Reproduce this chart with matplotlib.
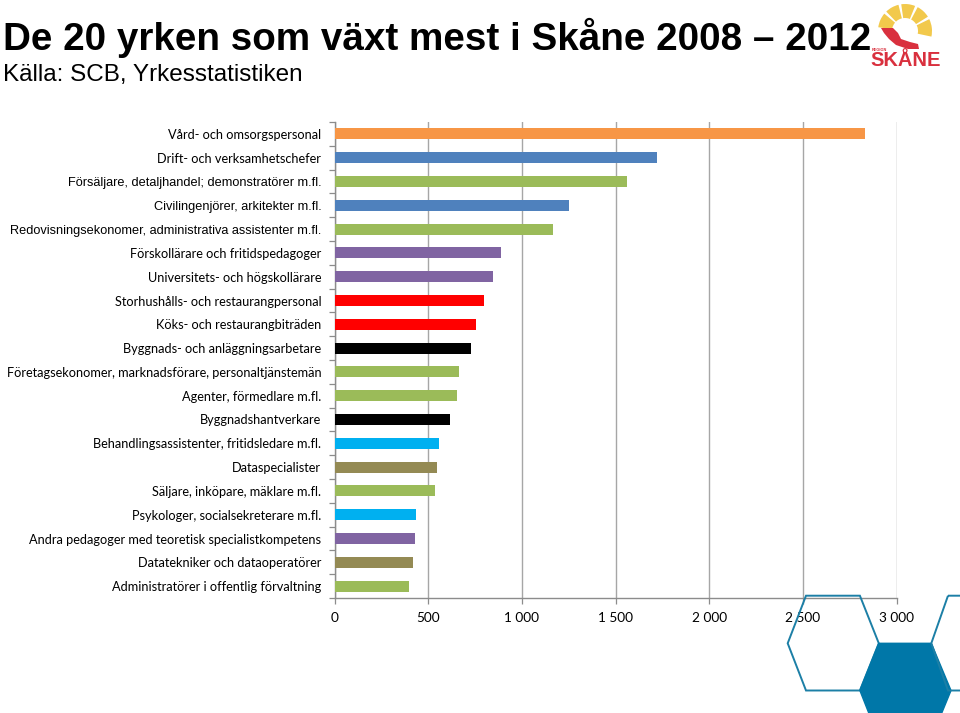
import matplotlib
matplotlib.use("Agg")
import matplotlib.pyplot as plt
from matplotlib.patches import Polygon, Wedge
from matplotlib.ticker import FuncFormatter, FixedLocator
import numpy as np

categories = [
    "Vård- och omsorgspersonal",
    "Drift- och verksamhetschefer",
    "Försäljare, detaljhandel; demonstratörer m.fl.",
    "Civilingenjörer, arkitekter m.fl.",
    "Redovisningsekonomer, administrativa assistenter m.fl.",
    "Förskollärare och fritidspedagoger",
    "Universitets- och högskollärare",
    "Storhushålls- och restaurangpersonal",
    "Köks- och restaurangbiträden",
    "Byggnads- och anläggningsarbetare",
    "Företagsekonomer, marknadsförare, personaltjänstemän",
    "Agenter, förmedlare m.fl.",
    "Byggnadshantverkare",
    "Behandlingsassistenter, fritidsledare m.fl.",
    "Dataspecialister",
    "Säljare, inköpare, mäklare m.fl.",
    "Psykologer, socialsekreterare m.fl.",
    "Andra pedagoger med teoretisk specialistkompetens",
    "Datatekniker och dataoperatörer",
    "Administratörer i offentlig förvaltning",
]
values = [2830, 1720, 1560, 1251, 1166, 890, 845, 800, 758, 731,
          667, 652, 615, 560, 549, 538, 436, 428, 420, 396]
colors = ["#F79646", "#4F81BD", "#9BBB59", "#4F81BD", "#9BBB59",
          "#8064A2", "#8064A2", "#FF0000", "#FF0000", "#000000",
          "#9BBB59", "#9BBB59", "#000000", "#00B0F0", "#948A54",
          "#9BBB59", "#00B0F0", "#8064A2", "#948A54", "#9BBB59"]
arial_rows = {2, 3, 4}
xticks = [0, 500, 1000, 1500, 2000, 2500, 3000]

W, H = 960, 713
fig = plt.figure(figsize=(W / 100, H / 100), dpi=100)

def px(x, y):
    return (x / W, 1 - y / H)

ax = fig.add_axes([334.5 / W, 1 - 598 / H, (896.5 - 334.5) / W, (598 - 122) / H])
y = np.arange(len(categories))
ax.barh(y, values, height=0.46, color=colors, zorder=3)
ax.set_ylim(len(categories) - 0.5, -0.5)
ax.set_xlim(0, 3000)

ax.set_yticks(y)
ax.set_yticklabels(categories)
ax.yaxis.set_minor_locator(FixedLocator(np.arange(-0.5, len(categories), 1.0)))
ax.tick_params(axis="y", which="major", length=0, pad=9.5, labelsize=9.2, colors="#000000")
ax.tick_params(axis="y", which="minor", length=4, color="#8C8C8C", width=0.9)
for i, lab in enumerate(ax.get_yticklabels()):
    if i in arial_rows:
        lab.set_fontfamily("Liberation Sans")
        lab.set_fontsize(9.2)
    else:
        lab.set_fontfamily("Lato")

ax.set_xticks(xticks)
ax.xaxis.set_major_formatter(FuncFormatter(lambda v, p: f"{int(v):,}".replace(",", " ")))
ax.tick_params(axis="x", length=4, color="#8C8C8C", width=0.9, pad=6, labelsize=9.8)
for lab in ax.get_xticklabels():
    lab.set_fontfamily("Lato")
ax.grid(axis="x", color="#A6A6A6", linewidth=1.0, zorder=0)
for s in ["top", "right"]:
    ax.spines[s].set_visible(False)
for s in ["left", "bottom"]:
    ax.spines[s].set_color("#8C8C8C")
    ax.spines[s].set_linewidth(1.0)

# Title and subtitle
fig.text(*px(3, 50), "De 20 yrken som växt mest i Skåne 2008 – 2012",
         fontfamily="Liberation Sans", fontweight="bold", fontsize=27.8,
         ha="left", va="baseline", color="#000000")
fig.text(*px(3, 81), "Källa: SCB, Yrkesstatistiken",
         fontfamily="Liberation Sans", fontsize=17.5, ha="left", va="baseline",
         color="#000000")

# Hexagon decoration (bottom right)
def hexagon(xl, xtl, xtr, xr, ytop, ymid, ybot, **kw):
    pts = [px(xtl, ytop), px(xtr, ytop), px(xr, ymid), px(xtr, ybot), px(xtl, ybot), px(xl, ymid)]
    return Polygon(pts, closed=True, transform=fig.transFigure, **kw)

fig.add_artist(hexagon(787.7, 806, 859.9, 878.8, 595.7, 643.3, 690.5,
                       fill=False, edgecolor="#1C7FA6", linewidth=1.4, clip_on=False))
fig.add_artist(hexagon(859.9, 878.8, 931.3, 951, 643.3, 690.5, 738.5,
                       facecolor="#0077A8", edgecolor="#0077A8", linewidth=1.0, clip_on=False))
fig.add_artist(hexagon(931.3, 948, 1004, 1024, 595.7, 643.3, 690.5,
                       fill=False, edgecolor="#1C7FA6", linewidth=1.4, clip_on=False))

# Region Skåne logo (approximation)
lcx, lcy = 905 / 100, (H - 31) / 100
for a1, a2 in [(140, 172), (104, 134), (68, 98), (32, 62), (-12, 26)]:
    wdg = Wedge((lcx, lcy), 0.27, a1, a2, width=0.14,
                transform=fig.dpi_scale_trans, facecolor="#F2C94C", edgecolor="none")
    fig.add_artist(wdg)
red_pts = [px(881, 28), px(893, 28), px(898, 33), px(901, 39), px(910, 42), px(918, 44),
           px(919, 49), px(908, 49), px(896, 45), px(889, 39), px(884, 33)]
fig.add_artist(Polygon(red_pts, closed=True, transform=fig.transFigure,
                       facecolor="#D9303E", edgecolor="none"))
fig.text(*px(872, 50), "REGION", fontfamily="Liberation Sans", fontsize=2.8,
         color="#D9303E", ha="left", va="center", fontweight="bold")
fig.text(*px(906, 61), "SKÅNE", fontfamily="Liberation Sans", fontsize=14.5,
         color="#D9303E", ha="center", va="center", fontweight="bold")

fig.savefig("out.png", dpi=100)
